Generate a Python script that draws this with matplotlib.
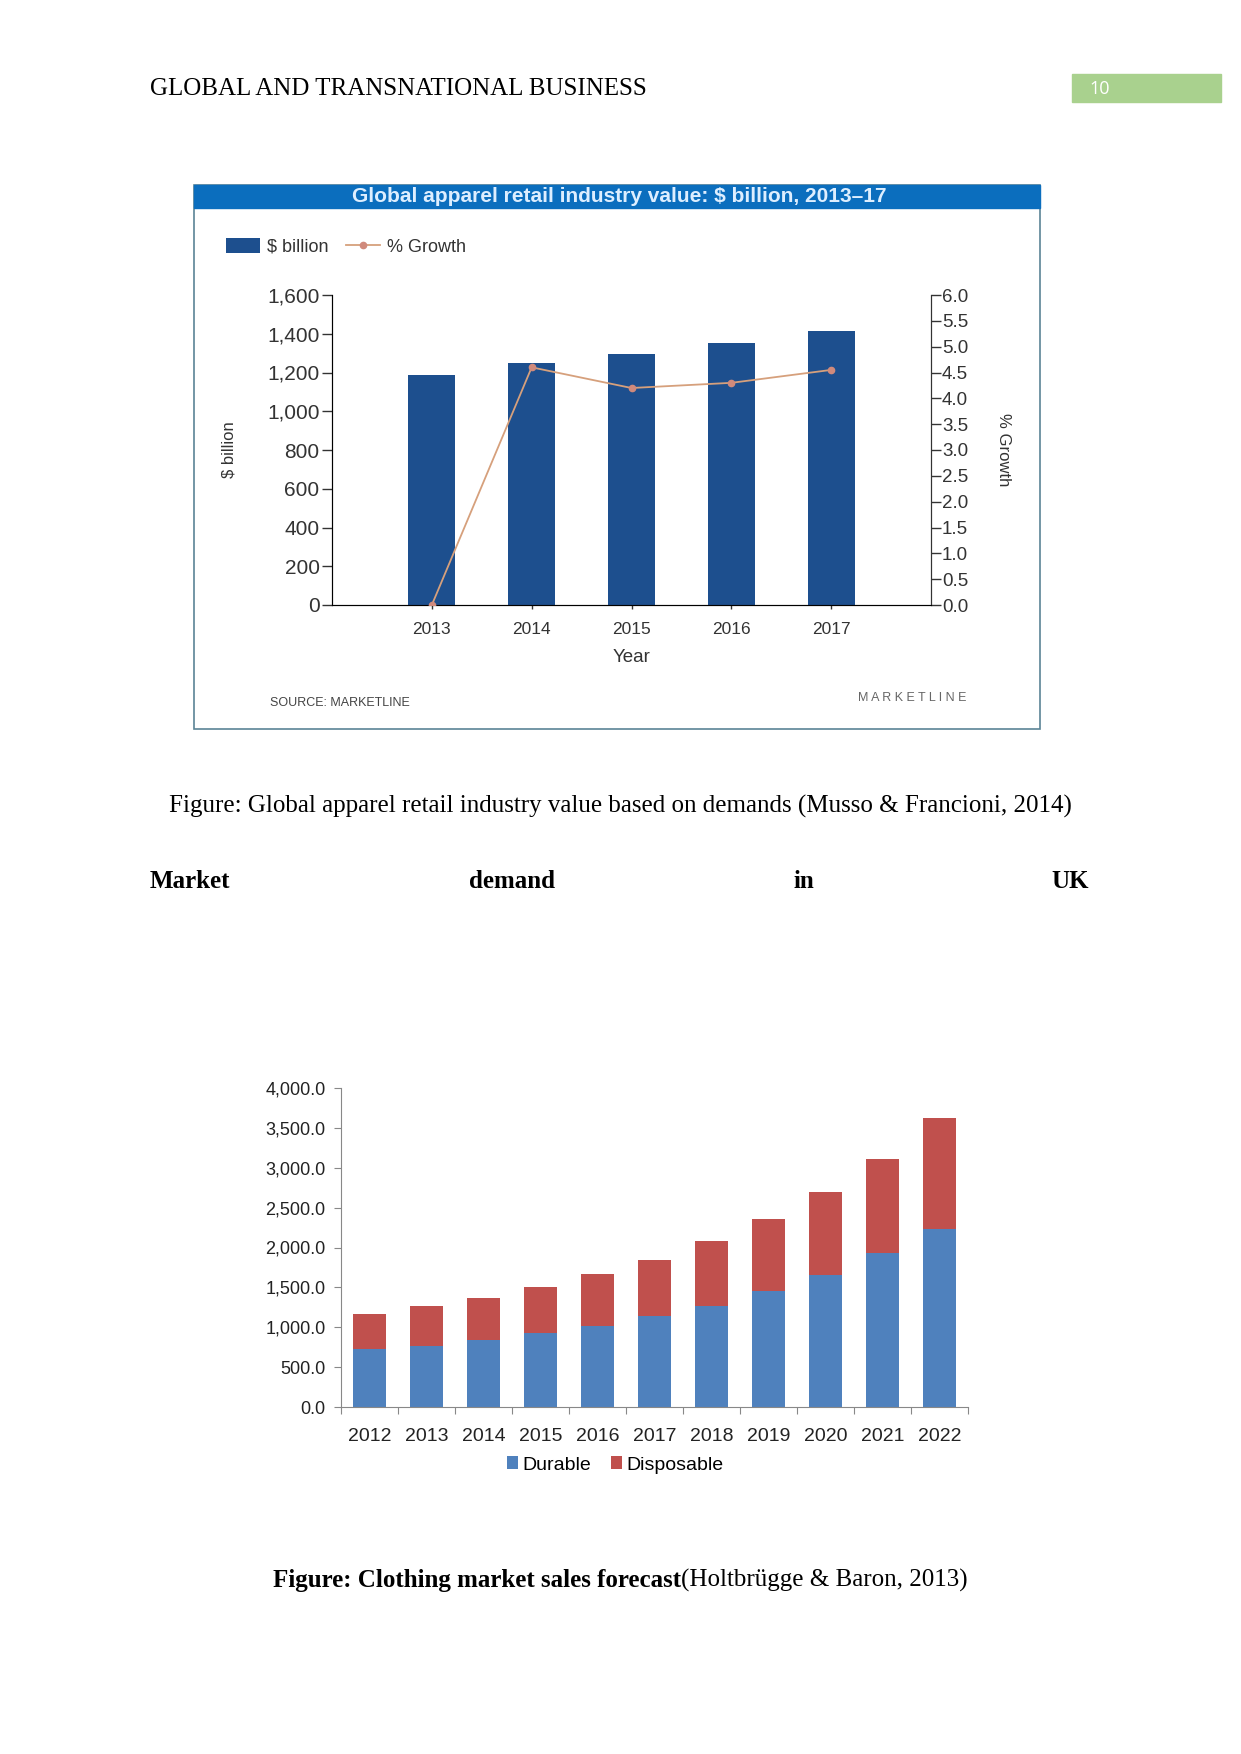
import matplotlib.pyplot as plt
from matplotlib.patches import Rectangle
from matplotlib.ticker import FuncFormatter

# chart 1: global apparel retail value
years1 = ["2013", "2014", "2015", "2016", "2017"]
value_bn = [1185, 1248, 1294, 1352, 1416]
growth_pct = [0.0, 4.6, 4.2, 4.3, 4.55]

# chart 2: clothing market sales forecast
years2 = ["2012", "2013", "2014", "2015", "2016", "2017", "2018", "2019", "2020", "2021", "2022"]
durable = [722, 764, 839, 923, 1020, 1137, 1272, 1452, 1650, 1927, 2233]
disposable = [445, 504, 529, 584, 646, 706, 810, 903, 1040, 1179, 1385]

W, H = 1241, 1754
narrow = ["Liberation Sans Narrow", "Liberation Sans", "DejaVu Sans"]
serif = ["Liberation Serif", "DejaVu Serif"]


def fbox(x0, y0, x1, y1):
    # pixel box (top-left origin) -> figure fraction
    return [x0 / W, 1 - y1 / H, (x1 - x0) / W, (y1 - y0) / H]


fig = plt.figure(figsize=(W / 100, H / 100), dpi=100, facecolor="white")

# page overlay in pixel coordinates
page = fig.add_axes([0, 0, 1, 1])
page.set_xlim(0, W)
page.set_ylim(H, 0)
page.axis("off")

page.text(150, 89, "GLOBAL AND TRANSNATIONAL BUSINESS", family=serif, fontsize=18,
          va="center", ha="left")
page.add_patch(Rectangle((1072, 74), 149, 28, color="#A9D18E"))
page.text(1089, 89, "10", family=["Open Sans", "DejaVu Sans"], fontsize=13,
          color="white", va="center", ha="left")

# chart 1 frame
page.add_patch(Rectangle((194, 185), 846, 544, fill=False, ec="#5B8496", lw=1.2))
page.add_patch(Rectangle((194, 185), 846, 23, color="#0B6EBE"))
page.text(619, 197, "Global apparel retail industry value: \\$ billion, 2013\u201317",
          family=narrow, fontsize=15, fontweight="bold", color="#DDEEFF",
          ha="center", va="center")
page.text(270, 703, "SOURCE: MARKETLINE", family=narrow, fontsize=9, color="#444444",
          va="center", ha="left")
page.text(966, 698, "M A R K E T L I N E", family=narrow, fontsize=9, color="#666666",
          va="center", ha="right")

page.text(620, 806, "Figure: Global apparel retail industry value based on demands (Musso & Francioni, 2014)",
          family=serif, fontsize=18, ha="center", va="center")
for x, word, ha in [(150, "Market", "left"), (469, "demand", "left"),
                    (793, "in", "left"), (1089, "UK", "right")]:
    page.text(x, 881, word, family=serif, fontsize=18, fontweight="bold",
              ha=ha, va="center")

t1 = page.text(273, 1580, "Figure: Clothing market sales forecast", family=serif,
               fontsize=18, fontweight="bold", ha="left", va="center")
fig.canvas.draw()
bb = t1.get_window_extent()
x_end = bb.x1 / fig.dpi * 100
page.text(x_end, 1580, "(Holtbr\u00fcgge & Baron, 2013)", family=serif, fontsize=18,
          ha="left", va="center")

# ---- chart 1 ----
ax1 = fig.add_axes(fbox(332, 295, 931, 605))
pos1 = range(len(years1))
bars = ax1.bar(pos1, value_bn, width=0.47, color="#1D4F8E", zorder=2)
ax1.set_xlim(-1, 5)
ax1.set_ylim(0, 1600)
ax1.set_yticks(range(0, 1601, 200))
ax1.yaxis.set_major_formatter(FuncFormatter(lambda v, p: f"{int(v):,}"))
ax1.set_xticks(list(pos1))
ax1.set_xticklabels(years1)
ax1.spines["top"].set_visible(False)
for s in ["left", "right", "bottom"]:
    ax1.spines[s].set_color("#333333")
ax1.tick_params(axis="y", length=7, width=1, color="#333333", labelsize=15, pad=2,
                labelcolor="#333333")
ax1.tick_params(axis="x", length=3, width=1, color="#333333", labelsize=12.5, pad=9,
                labelcolor="#333333")
for lab in ax1.get_xticklabels() + ax1.get_yticklabels():
    lab.set_family(narrow)
ax1.set_xlabel("Year", family=narrow, fontsize=13.5, color="#333333", labelpad=9)
ax1.set_ylabel("\\$ billion", family=narrow, fontsize=12, color="#333333", labelpad=22)

ax1r = ax1.twinx()
ln, = ax1r.plot(list(pos1), growth_pct, color="#D6A07C", lw=1.3, marker="o",
                markersize=4.5, markerfacecolor="#D08A7C", markeredgecolor="#D08A7C",
                zorder=3)
ax1r.set_ylim(0, 6)
ax1r.set_yticks([i * 0.5 for i in range(13)])
ax1r.yaxis.set_major_formatter(FuncFormatter(lambda v, p: f"{v:.1f}"))
ax1r.spines["top"].set_visible(False)
ax1r.spines["right"].set_color("#333333")
ax1r.tick_params(axis="y", length=7, width=1, color="#333333", labelsize=13.5, pad=1,
                 labelcolor="#333333")
for lab in ax1r.get_yticklabels():
    lab.set_family(narrow)
ax1r.set_ylabel("% Growth", family=narrow, fontsize=12, color="#333333",
                rotation=-90, labelpad=31)

leg1 = ax1.legend([bars, ln], ["\\$ billion", "% Growth"], ncol=2, frameon=False,
                  loc="center left", bbox_to_anchor=(226 / W, 1 - 247 / H),
                  bbox_transform=fig.transFigure, handlelength=1.9, handleheight=0.9,
                  columnspacing=1.0, handletextpad=0.35, borderpad=0, borderaxespad=0,
                  prop={"family": narrow, "size": 13})
for t in leg1.get_texts():
    t.set_color("#333333")

# ---- chart 2 ----
ax2 = fig.add_axes(fbox(341, 1088, 968, 1407))
pos2 = range(len(years2))
ax2.bar(pos2, durable, width=0.58, color="#4F81BD", label="Durable")
ax2.bar(pos2, disposable, width=0.58, bottom=durable, color="#C0504D",
        label="Disposable")
ax2.set_xlim(-0.5, len(years2) - 0.5)
ax2.set_ylim(0, 4000)
ax2.set_yticks(range(0, 4001, 500))
ax2.yaxis.set_major_formatter(FuncFormatter(lambda v, p: f"{v:,.1f}"))
ax2.set_xticks(list(pos2))
ax2.set_xticklabels(years2)
ax2.set_xticks([i - 0.5 for i in range(len(years2) + 1)], minor=True)
ax2.tick_params(axis="x", which="major", length=0, labelsize=14, pad=15,
                labelcolor="#222222")
ax2.tick_params(axis="x", which="minor", length=5, width=0.8, color="#888888")
ax2.tick_params(axis="y", length=5, width=0.8, color="#888888", labelsize=13,
                labelcolor="#222222", pad=6)
for lab in ax2.get_xticklabels() + ax2.get_yticklabels():
    lab.set_family(narrow)
for s in ["top", "right"]:
    ax2.spines[s].set_visible(False)
for s in ["left", "bottom"]:
    ax2.spines[s].set_color("#888888")
    ax2.spines[s].set_linewidth(0.8)

ax2.legend(ncol=2, frameon=False, loc="center", bbox_to_anchor=(615 / W, 1 - 1465 / H),
           bbox_transform=fig.transFigure, handlelength=0.6, handleheight=0.6,
           handletextpad=0.2, columnspacing=1.0,
           prop={"family": narrow, "size": 14})

fig.savefig("out.png", dpi=100, facecolor="white")
